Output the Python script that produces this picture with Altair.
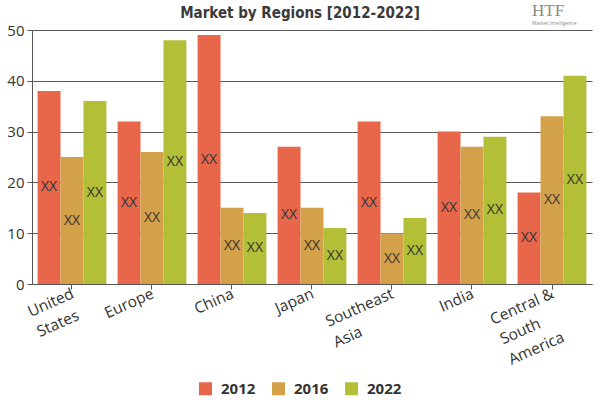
import altair as alt
import pandas as pd

NB = "\u00a0"
ZW = "\u200b"
regions = ["United|States" + NB + ZW, "Europe", "China", "Japan",
           "Southeast|Asia" + NB * 11 + ZW, "India",
           "Central &|South" + NB * 6 + ZW + "|America" + NB * 2 + ZW]
years = ["2012", "2016", "2022"]
v2012 = [38, 32, 49, 27, 32, 30, 18]
v2016 = [25, 26, 15, 15, 10, 27, 33]
v2022 = [36, 48, 14, 11, 13, 29, 41]
colors = ["#E8674B", "#D4A14B", "#B4BF38"]
title_text = ["Market by Regions [2012-2022]"]
logo_text = ["HTF"]
logo_sub = ["Market Intelligence"]

rows = []
for i, r in enumerate(regions):
    for y, vals in zip(years, [v2012, v2016, v2022]):
        rows.append({"region": r, "year": y, "value": vals[i]})
df = pd.DataFrame(rows)

xenc = alt.X("region:N", sort=regions, title=None,
             scale=alt.Scale(paddingInner=0.14, paddingOuter=0.07),
             axis=alt.Axis(labelAngle=-24, labelAlign="right", labelBaseline="top",
                           labelExpr="split(datum.label, '|')", labelFontSize=15.5,
                           labelColor="#333", labelFont="Open Sans", labelPadding=-3,
                           labelLineHeight=22, labelOffset=-2,
                           domainColor="#555", tickColor="#555", tickSize=5, grid=False))
yenc = alt.Y("value:Q", title=None,
             scale=alt.Scale(domain=[0, 50]),
             axis=alt.Axis(values=[0, 10, 20, 30, 40, 50], labelFontSize=15, labelColor="#333",
                           labelFont="Open Sans", gridColor="#5a5a5a", gridWidth=1,
                           domainColor="#555", tickColor="#555", tickSize=5, labelPadding=3))

base = alt.Chart(df)
bars = base.mark_bar().encode(
    x=xenc, y=yenc,
    xOffset=alt.XOffset("year:N", sort=years),
    color=alt.Color("year:N", sort=years, title=None,
                    scale=alt.Scale(domain=years, range=colors),
                    legend=alt.Legend(orient="none", legendX=166, legendY=351, direction="horizontal",
                                      symbolType="square", symbolSize=169, symbolStrokeWidth=0,
                                      labelFontSize=15, labelFontWeight="bold", labelColor="#333",
                                      labelFont="Open Sans", columnPadding=15, labelOffset=8)),
)
labels = base.transform_calculate(half="datum.value / 2").mark_text(
    text="XX", fontSize=14, color="#333", font="Open Sans"
).encode(
    x=alt.X("region:N", sort=regions),
    xOffset=alt.XOffset("year:N", sort=years),
    y=alt.Y("half:Q"),
)
title = alt.Chart(pd.DataFrame({"t": title_text})).mark_text(
    fontSize=15, fontWeight="bold", color="#3a3a3a",
    font="'DejaVu Sans Condensed', sans-serif",
    align="center", baseline="alphabetic"
).encode(x=alt.value(268), y=alt.value(-12), text="t:N")
logo = alt.Chart(pd.DataFrame({"t": logo_text})).mark_text(
    fontSize=17, color="#8a8a8a", font="Liberation Serif", align="left", baseline="alphabetic"
).encode(x=alt.value(500), y=alt.value(-14), text="t:N")
logo2 = alt.Chart(pd.DataFrame({"t": logo_sub})).mark_text(
    fontSize=5, color="#888", font="Open Sans", align="left", baseline="alphabetic"
).encode(x=alt.value(500), y=alt.value(-5), text="t:N")

chart = alt.layer(bars, labels, title, logo, logo2).properties(
    width=560, height=254,
    autosize=alt.AutoSizeParams(type="none"),
    padding={"left": 32, "top": 30, "right": 8, "bottom": 116},
).configure_view(stroke=None).configure_axis(domainWidth=1)

chart.save("out.html", embed_options={"renderer": "svg", "actions": False})
